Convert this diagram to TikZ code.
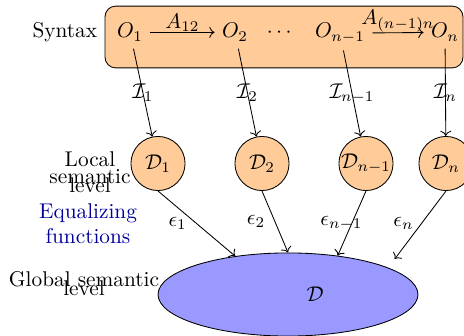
\documentclass[tikz,border=0pt]{standalone}
\usepackage{amsmath,amssymb}
\usepackage{tikz}
\usetikzlibrary{arrows.meta,positioning,shapes.geometric}
\colorlet{synfill}{orange!40}
\colorlet{globfill}{blue!40}
\colorlet{eqblue}{blue!60!black}

\begin{document}
\begin{tikzpicture}[
  x=0.0165cm, y=-0.0165cm,
  synbox/.style={rectangle, rounded corners=5pt, draw, fill=synfill, minimum width=168pt, minimum height=29pt},
  obj/.style={anchor=base},
  loc/.style={circle, draw, fill=synfill, minimum size=25.4pt, inner sep=0pt},
  glob/.style={ellipse, draw, fill=globfill, minimum width=122pt, minimum height=39pt},
  lvl/.style={align=center},
  rel/.style={above, inner sep=0pt}
]
\useasboundingbox (0,0) rectangle (464,336);
% syntax level
\node[synbox] (box) at (284,37) {};
\node[obj] (o1) at (130,38) {$O_1$};
\node[obj] (o2) at (235,38) {$O_2$};
\node[obj] (dots) at (281,38) {$\cdots$};
\node[obj] (on1) at (340,38) {$O_{n-1}$};
\node[obj] (on) at (445,38) {$O_n$};
\node[anchor=base east] (syn) at (box.west |- o1.base) {Syntax};
\draw[->] (o1) -- node[rel] {$A_{12}$} (o2);
\draw[->] (on1) -- node[rel] {$A_{(n-1)n}$} (on);
% local semantic level
\node[loc] (d1) at (158,163.5) {$\mathcal{D}_1$};
\node[loc] (d2) at (262,163.5) {$\mathcal{D}_2$};
\node[loc] (dn1) at (366,163.5) {$\mathcal{D}_{n-1}$};
\node[loc] (dn) at (446,163.5) {$\mathcal{D}_n$};
\draw[->] (o1) -- node {$\mathcal{I}_1$} (d1);
\draw[->] (o2) -- node {$\mathcal{I}_2$} (d2);
\draw[->] (on1) -- node {$\mathcal{I}_{n-1}$} (dn1);
\draw[->] (on) -- node {$\mathcal{I}_n$} (dn);
% global semantic level
\node[glob] (gl) at (288,294.5) {};
\node (dglob) at ([xshift=12.7pt]gl.center) {$\mathcal{D}$};
\draw[->] (d1.south) -- node[xshift=-8.9pt] {$\epsilon_1$} (gl.144);
\draw[->] (d2.south) -- node[xshift=-8.9pt] {$\epsilon_2$} (gl.north);
\draw[->] (dn1.south) -- node[xshift=-4.9pt] {$\epsilon_{n-1}$} (gl.38);
\draw[->, shorten >=5pt] (dn.south) -- node[pos=0.42, xshift=-8.5pt] {$\epsilon_n$} (gl.15.7);
% level names
\node[lvl] (loclvl) at (90,172.6) {Local\\[-4pt]semantic\\[-7.8pt]level};
\node[lvl, text=eqblue] (eqf) at (88,223.6) {Equalizing\\functions};
\node[lvl] (glolvl) at (84,283.6) {Global semantic\\[-8.2pt]level};
\end{tikzpicture}
\end{document}
